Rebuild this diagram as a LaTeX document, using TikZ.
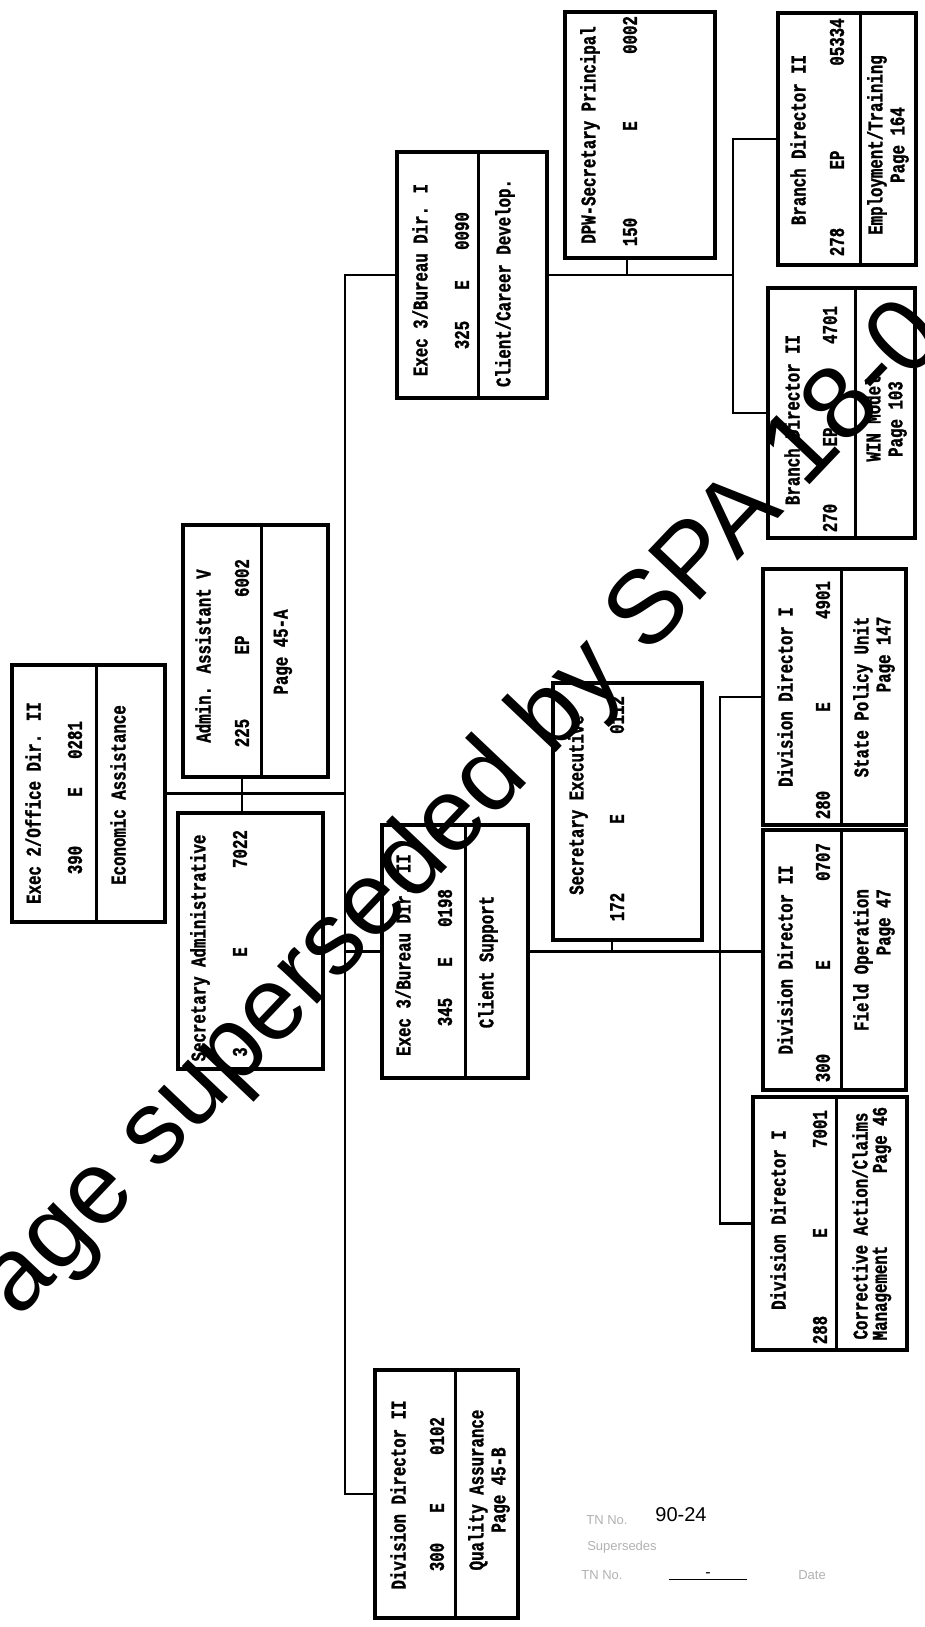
\documentclass[tikz,border=0pt]{standalone}
\usepackage{fontspec}
\newfontfamily\chartfont{Liberation Mono}[FakeStretch=0.75,FakeBold=1.2]
\newfontfamily\wmfont{Liberation Sans}
\newfontfamily\stampfont{Liberation Sans}
\begin{document}
\begin{tikzpicture}[x=1pt,y=-1pt,
  box/.style={draw, line width=3.2pt, inner sep=0pt},
  txt/.style={rotate=90, inner sep=0pt, font=\chartfont\bfseries\fontsize{21}{22}\selectfont},
  dsc/.style={txt, align=center},
  dscr/.style={txt, align=right},
  conn/.style={line width=2.8pt},
  divl/.style={line width=2.4pt},
  faint/.style={inner sep=0pt, text=black!30, font=\stampfont\fontsize{13}{13}\selectfont}]
\fill[white] (0,0) rectangle (924,1627);
\useasboundingbox (0,0) rectangle (924,1627);

% ---------- boxes ----------
\node[box, minimum width=153pt, minimum height=257pt] (exec2) at (88.5,793.5) {};
\node[box, minimum width=145pt, minimum height=252pt] (adminv) at (255.5,651) {};
\node[box, minimum width=145pt, minimum height=256pt] (secadmin) at (250.5,941) {};
\node[box, minimum width=146pt, minimum height=253pt] (exec3b) at (455,951.5) {};
\node[box, minimum width=149pt, minimum height=257pt] (secexec) at (627.5,811.5) {};
\node[box, minimum width=143pt, minimum height=256pt] (divstate) at (834.5,697) {};
\node[box, minimum width=143pt, minimum height=260pt] (divfield) at (834.5,960) {};
\node[box, minimum width=154pt, minimum height=253pt] (divcorr) at (830,1223.5) {};
\node[box, minimum width=150pt, minimum height=246pt] (exec3a) at (472,275) {};
\node[box, minimum width=150pt, minimum height=246pt] (dpw) at (640,135) {};
\node[box, minimum width=138pt, minimum height=252pt] (brempl) at (847,139) {};
\node[box, minimum width=147pt, minimum height=250pt] (brwin) at (841.5,413) {};
\node[box, minimum width=143pt, minimum height=248pt] (divqa) at (446.5,1494) {};

% ---------- dividers ----------
\draw[divl] ([xshift=86pt]exec2.north west) -- ([xshift=86pt]exec2.south west);
\draw[divl] ([xshift=80pt]adminv.north west) -- ([xshift=80pt]adminv.south west);
\draw[divl] ([xshift=85pt]exec3b.north west) -- ([xshift=85pt]exec3b.south west);
\draw[divl] ([xshift=80pt]divstate.north west) -- ([xshift=80pt]divstate.south west);
\draw[divl] ([xshift=80pt]divfield.north west) -- ([xshift=80pt]divfield.south west);
\draw[divl] ([xshift=85pt]divcorr.north west) -- ([xshift=85pt]divcorr.south west);
\draw[divl] ([xshift=83pt]exec3a.north west) -- ([xshift=83pt]exec3a.south west);
\draw[divl] ([xshift=84pt]brempl.north west) -- ([xshift=84pt]brempl.south west);
\draw[divl] ([xshift=89pt]brwin.north west) -- ([xshift=89pt]brwin.south west);
\draw[divl] ([xshift=82pt]divqa.north west) -- ([xshift=82pt]divqa.south west);

% ---------- connectors ----------
\coordinate (trunkx) at (345,0);
\coordinate (dtx) at (720,0);
\coordinate (btx) at (733,0);
\coordinate (adstem) at ([xshift=-13.5pt]adminv.south);
\coordinate (sastem) at ([xshift=-8.5pt]secadmin.north);
\coordinate (sestem) at ([xshift=-15.5pt]secexec.south);
\coordinate (dpwstem) at ([xshift=-13pt]dpw.south);
\draw[conn] (exec3a.west) -- (exec3a.west -| trunkx) |- (divqa.west);
\draw[conn] (exec2.east) -- (exec2.east -| trunkx);
\draw[conn] (adstem) -- (sastem);
\draw[conn] (exec3b.west) -- (exec3b.west -| trunkx);
\draw[conn] (exec3b.east) -- (exec3b.east -| divfield.west);
\draw[conn] (sestem) -- (sestem |- exec3b.east);
\draw[conn] (divstate.west) -- (divstate.west -| dtx) |- (divcorr.west);
\draw[conn] (brempl.west) -- (brempl.west -| btx) |- (brwin.west);
\draw[conn] (exec3a.east) -- (exec3a.east -| btx);
\draw[conn] (dpwstem) -- (dpwstem |- exec3a.east);

% ---------- texts ----------
% Exec 2
\node[txt] (exec2a) at (33,803) {Exec 2/Office Dir. II};
\node[txt] (exec2b) at (75,860) {390};
\node[txt] (exec2c) at (75,792) {E};
\node[txt] (exec2d) at (75,740) {0281};
\node[txt] (exec2e) at (118,795) {Economic Assistance};
% Admin Assistant V
\node[txt] (adminva) at (203,656) {Admin. Assistant V};
\node[txt] (adminvb) at (242,733) {225};
\node[txt] (adminvc) at (242,645) {EP};
\node[txt] (adminvd) at (242,578) {6002};
\node[txt] (adminve) at (283,652) {Page 45-A};
% Secretary Administrative
\node[txt] (secadmina) at (200,948) {Secretary Administrative};
\node[txt] (secadminb) at (240,1052) {3};
\node[txt] (secadminc) at (240,952) {E};
\node[txt] (secadmind) at (240,849) {7022};
% Exec 3 Bureau Dir II
\node[txt] (exec3ba) at (403,955) {Exec 3/Bureau Dir. II};
\node[txt] (exec3bb) at (445,1012) {345};
\node[txt] (exec3bc) at (445,962) {E};
\node[txt] (exec3bd) at (445,908) {0198};
\node[txt] (exec3be) at (488,962) {Client Support};
% Secretary Executive
\node[txt] (secexeca) at (578,805) {Secretary Executive};
\node[txt] (secexecb) at (617,907) {172};
\node[txt] (secexecc) at (617,819) {E};
\node[txt] (secexecd) at (617,715) {0112};
% Division Director I - State Policy
\node[txt] (divstatea) at (785,697) {Division Director I};
\node[txt] (divstateb) at (823,805) {280};
\node[txt] (divstatec) at (823,707) {E};
\node[txt] (divstated) at (823,600) {4901};
\node[dscr] (divstatee) at (874,697) {State Policy Unit\\Page 147};
% Division Director II - Field Operation
\node[txt] (divfielda) at (785,960) {Division Director II};
\node[txt] (divfieldb) at (823,1068) {300};
\node[txt] (divfieldc) at (823,965) {E};
\node[txt] (divfieldd) at (823,862) {0707};
\node[dscr] (divfielde) at (874,960) {Field Operation\\Page 47};
% Division Director I - Corrective Action
\node[txt] (divcorra) at (778,1220) {Division Director I};
\node[txt] (divcorrb) at (820,1330) {288};
\node[txt] (divcorrc) at (820,1233) {E};
\node[txt] (divcorrd) at (820,1129) {7001};
\node[txt] (divcorre) at (860,1226) {Corrective Action/Claims};
\node[txt] (divcorrf) at (882,1293) {Management};
\node[txt] (divcorrg) at (882,1140) {Page 46};
% Exec 3 Bureau Dir I
\node[txt] (exec3aa) at (420,280) {Exec 3/Bureau Dir. I};
\node[txt] (exec3ab) at (462,335) {325};
\node[txt] (exec3ac) at (462,285) {E};
\node[txt] (exec3ad) at (462,231) {0090};
\node[txt] (exec3ae) at (505,283) {Client/Career Develop.};
% DPW Secretary Principal
\node[txt] (dpwa) at (590,135) {DPW-Secretary Principal};
\node[txt] (dpwb) at (630,232) {150};
\node[txt] (dpwc) at (630,126) {E};
\node[txt] (dpwd) at (630,35) {0002};
% Branch Director II - Employment
\node[txt] (brempla) at (798,140) {Branch Director II};
\node[txt] (bremplb) at (837,242) {278};
\node[txt] (bremplc) at (837,160) {EP};
\node[txt] (bremple) at (837,42) {05334};
\node[dsc] (bremplf) at (888,145) {Employment/Training\\Page 164};
% Branch Director II - WIN
\node[txt] (brwina) at (792,420) {Branch Director II};
\node[txt] (brwinb) at (830,518) {270};
\node[txt] (brwinc) at (830,437) {EP};
\node[txt] (brwind) at (830,325) {4701};
\node[dsc] (brwine) at (886,419) {WIN Model\\Page 103};
% Division Director II - Quality Assurance
\node[txt] (divqaa) at (398,1495) {Division Director II};
\node[txt] (divqab) at (437,1557) {300};
\node[txt] (divqac) at (437,1508) {E};
\node[txt] (divqad) at (437,1436) {0102};
\node[dsc] (divqae) at (489,1490) {Quality Assurance\\Page 45-B};

% ---------- stamp ----------
\node[faint] (sttn1) at (607,1520) {TN No.};
\node[inner sep=0pt, font=\stampfont\fontsize{20}{20}\selectfont] (st90) at (681,1515) {90-24};
\node[faint] (stsup) at (622,1547) {Supersedes};
\node[faint] (sttn2) at (602,1575) {TN No.};
\node[inner sep=0pt, font=\stampfont\fontsize{16}{16}\selectfont] (stline) at (708,1576) {\underline{\hspace{36pt}-\hspace{36pt}}};
\node[faint] (stdate) at (812,1575) {Date};

% ---------- watermark ----------
\node[inner sep=0pt, rotate=46.5, font=\wmfont\fontsize{104}{104}\selectfont] (wm) at (440,836) {Page superseded by SPA 18-0};
\end{tikzpicture}
\end{document}
